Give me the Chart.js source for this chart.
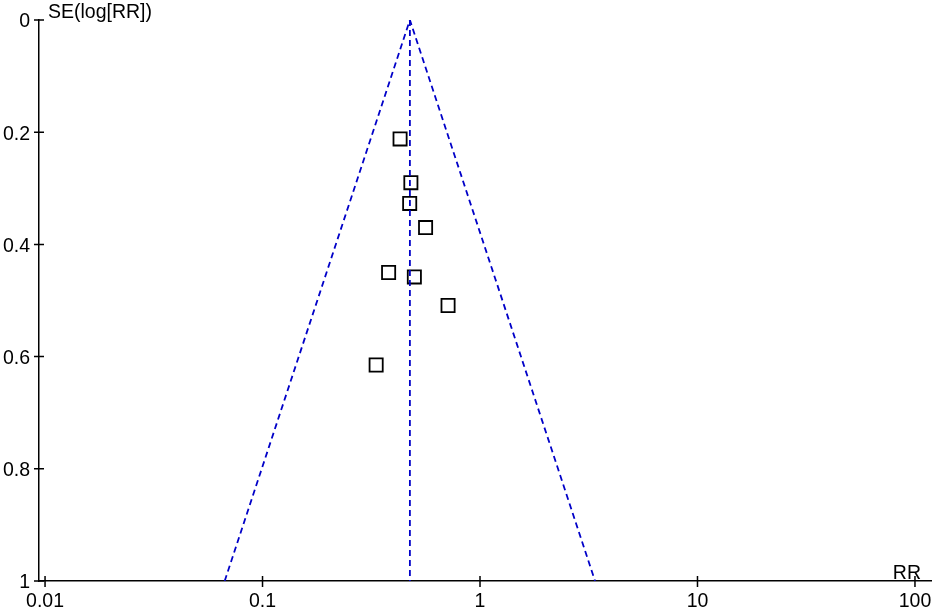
<!DOCTYPE html>
<html>
<head>
<meta charset="utf-8">
<script src="https://cdn.jsdelivr.net/npm/chart.js@4.4.1/dist/chart.umd.min.js"></script>
<style>
html,body{margin:0;padding:0;background:#fff;}
#wrap{width:933px;height:612px;position:relative;}
</style>
</head>
<body>
<div id="wrap"><canvas id="c" width="933" height="612"></canvas></div>
<script>
// Study estimates (RR) and their standard errors of log(RR)
const studyRR = [0.429, 0.481, 0.475, 0.562, 0.380, 0.499, 0.713, 0.333];
const studySE = [0.212, 0.290, 0.327, 0.370, 0.450, 0.458, 0.509, 0.615];
// Pooled estimate and 95% funnel limits read at SE = 1
const pooledRR = [0.476];
const funnelRR = [0.067, 0.476, 3.38];
const funnelSE = [1, 0, 1];
const pooledSE = [0, 1];
// Tick labels
const xTicks = [0.01, 0.1, 1, 10, 100];
const yTicks = [0, 0.2, 0.4, 0.6, 0.8, 1];

const FONT = "'Liberation Sans', Arial, sans-serif";
const FS = 19.5;
const blue = '#0000c8';

const pts = studyRR.map((v, i) => ({x: v, y: studySE[i]}));
const funnel = funnelRR.map((v, i) => ({x: v, y: funnelSE[i]}));
const pooled = pooledSE.map(s => ({x: pooledRR[0], y: s}));

const tickPlugin = {
  id: 'ticksAndLabels',
  afterDraw(chart) {
    const ctx = chart.ctx, xs = chart.scales.x, ys = chart.scales.y, a = chart.chartArea;
    ctx.save();
    ctx.strokeStyle = '#000';
    ctx.lineWidth = 1.5;
    ctx.beginPath();
    yTicks.forEach(v => { const p = ys.getPixelForValue(v); ctx.moveTo(a.left - 5, p); ctx.lineTo(a.left + 5, p); });
    xTicks.forEach(v => { const p = xs.getPixelForValue(v); ctx.moveTo(p, a.bottom - 5); ctx.lineTo(p, a.bottom + 6); });
    ctx.stroke();
    ctx.fillStyle = '#000';
    ctx.font = FS + 'px ' + FONT;
    ctx.textBaseline = 'alphabetic';
    ctx.textAlign = 'left';
    ctx.fillText('SE(log[RR])', a.left + 9, 18);
    ctx.textAlign = 'right';
    ctx.fillText('RR', a.right - 10, a.bottom - 2);
    ctx.restore();
  }
};

new Chart(document.getElementById('c'), {
  data: {
    datasets: [
      {type: 'line', data: funnel, borderColor: blue, borderWidth: 1.8, borderDash: [6, 4], pointRadius: 0, fill: false, tension: 0},
      {type: 'line', data: pooled, borderColor: blue, borderWidth: 1.8, borderDash: [6, 4], pointRadius: 0, fill: false, tension: 0},
      {type: 'scatter', data: pts, pointStyle: 'rect', pointRadius: 9.3, pointBorderWidth: 1.8, pointBorderColor: '#000', pointBackgroundColor: '#fff'}
    ]
  },
  options: {
    responsive: false,
    animation: false,
    events: [],
    layout: {autoPadding: false, padding: {top: 20, right: 2, left: 0, bottom: 0}},
    plugins: {legend: {display: false}, tooltip: {enabled: false}},
    scales: {
      x: {
        type: 'logarithmic',
        min: 0.00938,
        max: 118.5,
        afterBuildTicks: s => { s.ticks = xTicks.map(v => ({value: v})); },
        afterFit: s => { s.height = 31; s.paddingLeft = 0; s.paddingRight = 0; },
        grid: {display: false, drawTicks: false},
        border: {display: true, color: '#000', width: 1.5},
        ticks: {color: '#000', font: {family: FONT, size: FS}, padding: 9, maxRotation: 0, autoSkip: false,
          callback: v => String(v)}
      },
      y: {
        type: 'linear',
        reverse: true,
        min: 0,
        max: 1,
        afterBuildTicks: s => { s.ticks = yTicks.map(v => ({value: v})); },
        afterFit: s => { s.width = 39; s.paddingTop = 0; s.paddingBottom = 0; },
        grid: {display: false, drawTicks: false},
        border: {display: true, color: '#000', width: 1.5},
        ticks: {color: '#000', font: {family: FONT, size: FS}, padding: 9, labelOffset: 2, autoSkip: false,
          callback: v => String(v)}
      }
    }
  },
  plugins: [tickPlugin]
});
</script>
</body>
</html>
